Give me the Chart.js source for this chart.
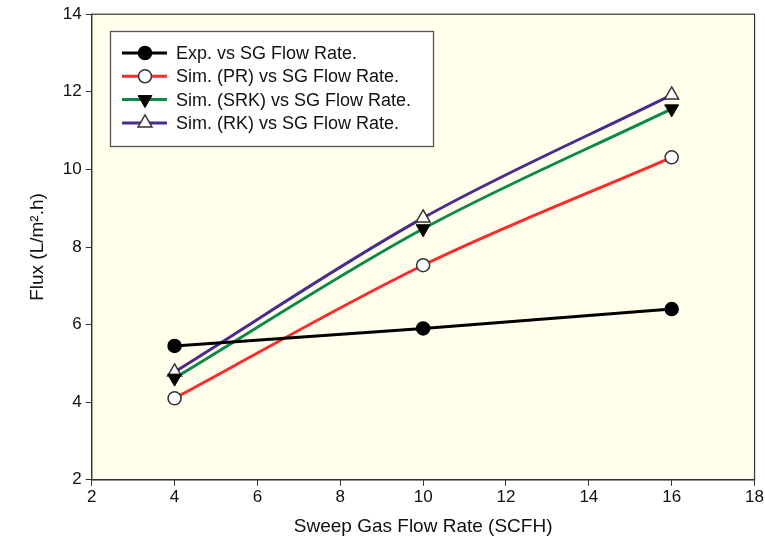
<!DOCTYPE html>
<html>
<head>
<meta charset="utf-8">
<script src="https://cdn.jsdelivr.net/npm/chart.js@4"></script>
<style>
  html, body { margin: 0; padding: 0; background: #fff; }
  #wrap { width: 765px; height: 549px; }
</style>
</head>
<body>
<div id="wrap"><canvas id="grafico"></canvas></div>
<script>
const flowRate = [4, 10, 16];

const expFlux = [5.45, 5.9, 6.4];
const simPR = [4.1, 7.53, 10.31];
const simSRK = [4.62, 8.47, 11.56];
const simRK = [4.78, 8.75, 11.92];

const xTicks = [2, 4, 6, 8, 10, 12, 14, 16, 18];
const yTicks = [2, 4, 6, 8, 10, 12, 14];

const rotulos = [
	'Exp. vs SG Flow Rate.',
	'Sim. (PR) vs SG Flow Rate.',
	'Sim. (SRK) vs SG Flow Rate.',
	'Sim. (RK) vs SG Flow Rate.'
];

function pontos(ys) {
	return flowRate.map((x, i) => ({ x: x, y: ys[i] }));
}

// fundo amarelo, moldura e legenda desenhada dentro da area
const moldura = {
	id: 'moldura',
	beforeDraw(chart) {
		const { ctx, chartArea: a } = chart;
		ctx.save();
		ctx.fillStyle = '#FFFFEC';
		ctx.fillRect(a.left, a.top, a.right - a.left, a.bottom - a.top);
		ctx.restore();
	},
	afterDraw(chart) {
		const { ctx, chartArea: a } = chart;
		ctx.save();
		ctx.strokeStyle = '#333';
		ctx.lineWidth = 1.2;
		ctx.strokeRect(a.left, a.top, a.right - a.left, a.bottom - a.top);

		// legenda
		const bx = 110, by = 31, bw = 323, bh = 115;
		ctx.fillStyle = '#fff';
		ctx.fillRect(bx, by, bw, bh);
		ctx.strokeStyle = '#555';
		ctx.lineWidth = 1.3;
		ctx.strokeRect(bx + 0.5, by + 0.5, bw, bh);
		ctx.textBaseline = 'middle';
		chart.data.datasets.forEach((ds, i) => {
			const y = by + 22 + i * 23.3;
			ctx.strokeStyle = ds.borderColor;
			ctx.lineWidth = 3;
			ctx.beginPath();
			ctx.moveTo(bx + 12, y);
			ctx.lineTo(bx + 57, y);
			ctx.stroke();
			ctx.fillStyle = ds.pointBackgroundColor;
			ctx.strokeStyle = ds.pointBorderColor;
			ctx.lineWidth = ds.pointBorderWidth;
			Chart.helpers.drawPoint(ctx, {
				pointStyle: ds.pointStyle,
				radius: ds.pointRadius,
				rotation: ds.pointRotation || 0,
				borderWidth: ds.pointBorderWidth
			}, bx + 35, y);
			ctx.fillStyle = '#111';
			ctx.font = '18px "Liberation Sans", Arial, sans-serif';
			ctx.fillText(rotulos[i], bx + 66, y + 1);
		});
		ctx.restore();
	}
};

const fonteTicks = { family: '"Liberation Sans", Arial, sans-serif', size: 17 };

let grafico = new Chart(document.getElementById('grafico').getContext('2d'), {
	type: 'line',
	data: {
		datasets: [
			{
				label: rotulos[0],
				data: pontos(expFlux),
				borderColor: '#000000',
				pointBackgroundColor: '#000000',
				pointBorderColor: '#000000',
				pointStyle: 'circle',
				pointRadius: 6.5,
				pointBorderWidth: 1.5,
				borderWidth: 3,
				tension: 0
			},
			{
				label: rotulos[1],
				data: pontos(simPR),
				borderColor: '#FF2A2A',
				pointBackgroundColor: '#FFFFFF',
				pointBorderColor: '#333333',
				pointStyle: 'circle',
				pointRadius: 6.5,
				pointBorderWidth: 1.5,
				borderWidth: 3,
				cubicInterpolationMode: 'monotone'
			},
			{
				label: rotulos[2],
				data: pontos(simSRK),
				borderColor: '#0A8A4A',
				pointBackgroundColor: '#000000',
				pointBorderColor: '#000000',
				pointStyle: 'triangle',
				pointRotation: 180,
				pointRadius: 8,
				pointBorderWidth: 1,
				borderWidth: 3,
				cubicInterpolationMode: 'monotone'
			},
			{
				label: rotulos[3],
				data: pontos(simRK),
				borderColor: '#4B2B8E',
				pointBackgroundColor: '#FFFFFF',
				pointBorderColor: '#333333',
				pointStyle: 'triangle',
				pointRadius: 8,
				pointBorderWidth: 1.5,
				borderWidth: 3,
				cubicInterpolationMode: 'monotone'
			}
		]
	},
	options: {
		responsive: true,
		maintainAspectRatio: false,
		animation: false,
		layout: { padding: { left: 22, right: 10, top: 13, bottom: 7 } },
		plugins: {
			legend: { display: false },
			tooltip: { enabled: false }
		},
		scales: {
			x: {
				type: 'linear',
				min: 2,
				max: 18,
				afterBuildTicks: s => { s.ticks = xTicks.map(v => ({ value: v })); },
				grid: { display: true, drawOnChartArea: false, drawTicks: true, tickLength: 6, color: '#333' },
				border: { color: '#333', width: 1.2 },
				ticks: { color: '#111', font: fonteTicks, padding: 1, maxRotation: 0 },
				title: {
					display: true,
					text: 'Sweep Gas Flow Rate (SCFH)',
					color: '#111',
					font: { family: '"Liberation Sans", Arial, sans-serif', size: 19 },
					padding: { top: 7 }
				}
			},
			y: {
				type: 'linear',
				min: 2,
				max: 14,
				afterBuildTicks: s => { s.ticks = yTicks.map(v => ({ value: v })); },
				grid: { display: true, drawOnChartArea: false, drawTicks: true, tickLength: 6, color: '#333' },
				border: { color: '#333', width: 1.2 },
				ticks: { color: '#111', font: fonteTicks, padding: 4 },
				title: {
					display: true,
					text: 'Flux (L/m\u00B2.h)',
					color: '#111',
					font: { family: '"Liberation Sans", Arial, sans-serif', size: 19 },
					padding: { bottom: 10 }
				}
			}
		}
	},
	plugins: [moldura]
});
</script>
</body>
</html>
